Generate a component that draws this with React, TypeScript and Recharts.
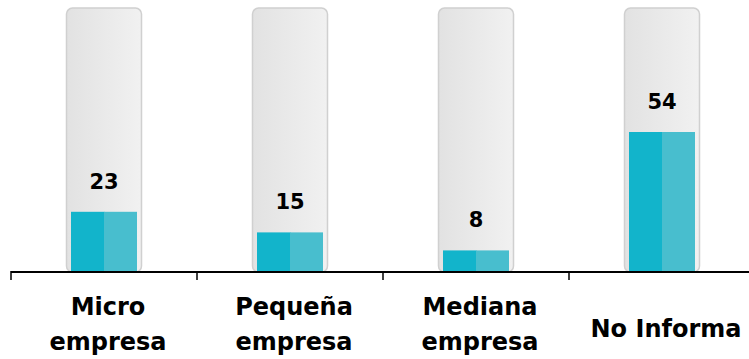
import React from 'react';
import { BarChart, Bar, XAxis, YAxis, LabelList } from 'recharts';

const categories = ['Micro empresa', 'Pequeña empresa', 'Mediana empresa', 'No Informa'];
const values = [23, 15, 8, 54];
const tickLabelLines = [['Micro', 'empresa'], ['Pequeña', 'empresa'], ['Mediana', 'empresa'], ['No Informa']];
const yMax = 100;

const data = categories.map((name, i) => ({ name, value: values[i] }));

const FONT = '"DejaVu Sans", Verdana, sans-serif';

const Tube = (props: any) => {
  const { x, y, width, height } = props;
  return (
    <rect
      x={x - 4.5}
      y={y - 5.5}
      width={width + 9}
      height={height + 6.5}
      rx={6}
      ry={6}
      fill="url(#tubeGrad)"
      stroke="#D0D0D0"
      strokeWidth={1.5}
    />
  );
};

const TealBar = (props: any) => {
  const { x, y, width, height } = props;
  if (!height || height <= 0) return null;
  const half = width / 2;
  return (
    <g>
      <rect x={x} y={y} width={half + 0.5} height={height} fill="#12B4CB" />
      <rect x={x + half} y={y} width={width - half} height={height} fill="#48BECE" />
    </g>
  );
};

const CustomTick = (props: any) => {
  const { x, y, payload, index } = props;
  const i = payload && typeof payload.index === 'number' ? payload.index : index;
  const lines = tickLabelLines[i] || [String(payload.value)];
  const off = payload && typeof payload.offset === 'number' && payload.offset > 0 ? payload.offset : 93;
  const cx = x + 4;
  return (
    <g>
      <line x1={x - off} x2={x - off} y1={y} y2={y + 9} stroke="#000" strokeWidth={1.5} />
      {lines.length === 1 ? (
        <text x={cx} y={y + 66} textAnchor="middle" fontFamily={FONT} fontWeight="bold" fontSize={24} fill="#000">
          {lines[0]}
        </text>
      ) : (
        lines.map((l: string, k: number) => (
          <text key={k} x={cx} y={y + 44 + k * 35} textAnchor="middle" fontFamily={FONT} fontWeight="bold" fontSize={24} fill="#000">
            {l}
          </text>
        ))
      )}
    </g>
  );
};

export default function App() {
  return (
    <div style={{ position: 'absolute', left: 0, top: 0, width: 749, height: 359, overflow: 'hidden', background: '#fff' }}>
      <BarChart
        width={760}
        height={359}
        data={data}
        margin={{ top: 13.6, right: 5, bottom: 0, left: 11 }}
        barCategoryGap={0}
      >
        <defs>
          <linearGradient id="tubeGrad" x1="0" y1="0" x2="1" y2="0">
            <stop offset="0%" stopColor="#E2E2E2" />
            <stop offset="100%" stopColor="#F1F1F1" />
          </linearGradient>
        </defs>
        <YAxis hide domain={[0, yMax]} />
        <XAxis
          dataKey="name"
          height={88}
          tickLine={false}
          tickSize={0}
          tickMargin={0}
          axisLine={{ stroke: '#000', strokeWidth: 2, transform: 'translate(0,1)' }}
          tick={<CustomTick />}
          interval={0}
        />
        <Bar
          dataKey="value"
          barSize={66}
          background={<Tube />}
          shape={<TealBar />}
          isAnimationActive={false}
        >
          <LabelList
            dataKey="value"
            position="top"
            offset={23}
            fill="#000"
            fontFamily={FONT}
            fontWeight="bold"
            fontSize={21}
          />
        </Bar>
      </BarChart>
    </div>
  );
}
